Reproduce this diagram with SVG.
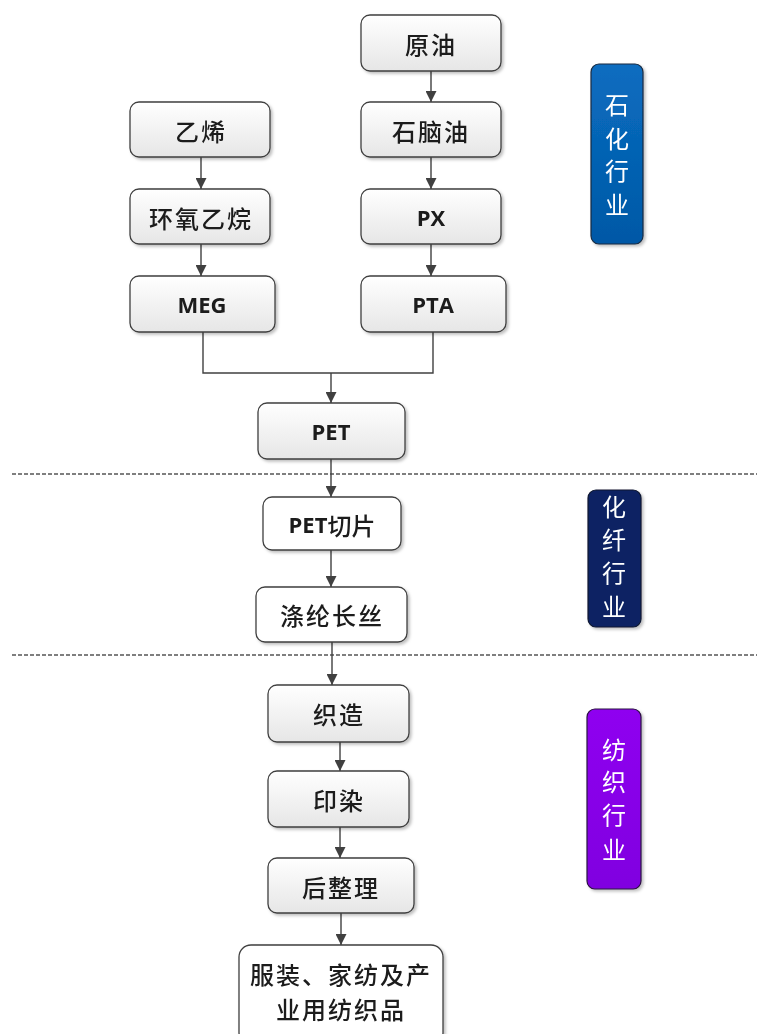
<svg xmlns="http://www.w3.org/2000/svg" width="763" height="1034" viewBox="0 0 763 1034">
<style>
.box{stroke:#3f3f3f;stroke-width:1.3;fill:url(#g)}
.wbox{stroke:#3f3f3f;stroke-width:1.3;fill:#ffffff}
.cn{font-family:"Noto Sans CJK SC",sans-serif;font-size:24px;font-weight:500;fill:#1a1a1a;text-anchor:middle;dominant-baseline:central;letter-spacing:2px}
.en{font-family:"Open Sans","Liberation Sans",sans-serif;font-weight:bold;font-size:22px;fill:#1a1a1a;text-anchor:middle;dominant-baseline:central}
.side{font-family:"Noto Sans CJK SC",sans-serif;font-size:24px;fill:#ffffff;text-anchor:middle;dominant-baseline:central}
.ln{stroke:#404040;stroke-width:1.4;fill:none}
.ar{stroke:#404040;stroke-width:1.4;fill:none;marker-end:url(#ah)}
.dash{stroke:#555;stroke-width:1.3;stroke-dasharray:4 2;fill:none}
</style>
<defs>
<linearGradient id="g" x1="0" y1="0" x2="0" y2="1">
<stop offset="0" stop-color="#ffffff"/>
<stop offset="1" stop-color="#e6e6e6"/>
</linearGradient>
<linearGradient id="gb" x1="0" y1="0" x2="0" y2="1">
<stop offset="0" stop-color="#0a6dc0"/>
<stop offset="1" stop-color="#0058a6"/>
</linearGradient>
<linearGradient id="gp" x1="0" y1="0" x2="0" y2="1">
<stop offset="0" stop-color="#8f00f0"/>
<stop offset="1" stop-color="#8000e0"/>
</linearGradient>
<filter id="sh" x="-20%" y="-20%" width="140%" height="140%">
<feDropShadow dx="2" dy="2" stdDeviation="1.5" flood-color="#000" flood-opacity="0.25"/>
</filter>
<marker id="ah" viewBox="0 0 10 10" refX="10" refY="5" markerWidth="11" markerHeight="11" markerUnits="userSpaceOnUse" orient="auto">
<path d="M0,0 L10,5 L0,10 z" fill="#404040"/>
</marker>
</defs>
<rect width="763" height="1034" fill="#ffffff"/>

<g id="separators">
<line class="dash" x1="12" y1="474" x2="757" y2="474"/>
<line class="dash" x1="12" y1="655" x2="757" y2="655"/>
</g>

<g id="connectors">
<line class="ar" x1="431" y1="71" x2="431" y2="102"/>
<line class="ar" x1="431" y1="157" x2="431" y2="189"/>
<line class="ar" x1="431" y1="244" x2="431" y2="276"/>
<line class="ar" x1="201" y1="157" x2="201" y2="189"/>
<line class="ar" x1="201" y1="244" x2="201" y2="276"/>
<polyline class="ln" points="203,332 203,373 433,373 433,332"/>
<line class="ar" x1="331" y1="373" x2="331" y2="403"/>
<line class="ar" x1="331" y1="459" x2="331" y2="497"/>
<line class="ar" x1="331" y1="550" x2="331" y2="587"/>
<line class="ar" x1="332" y1="642" x2="332" y2="685"/>
<line class="ar" x1="340" y1="742" x2="340" y2="771"/>
<line class="ar" x1="340" y1="827" x2="340" y2="858"/>
<line class="ar" x1="341" y1="913" x2="341" y2="945"/>
</g>

<g id="n-yuanyou" filter="url(#sh)"><rect class="box" x="361" y="15" width="140" height="56" rx="9"/><text class="cn" x="431" y="43">原油</text></g>
<g id="n-shinaoyou" filter="url(#sh)"><rect class="box" x="361" y="102" width="140" height="55" rx="9"/><text class="cn" x="431" y="130">石脑油</text></g>
<g id="n-px" filter="url(#sh)"><rect class="box" x="361" y="189" width="140" height="55" rx="9"/><text class="en" x="431" y="217">PX</text></g>
<g id="n-pta" filter="url(#sh)"><rect class="box" x="361" y="276" width="145" height="56" rx="9"/><text class="en" x="433" y="304">PTA</text></g>
<g id="n-yixi" filter="url(#sh)"><rect class="box" x="130" y="102" width="140" height="55" rx="9"/><text class="cn" x="201" y="130">乙烯</text></g>
<g id="n-huanyang" filter="url(#sh)"><rect class="box" x="130" y="189" width="140" height="55" rx="9"/><text class="cn" x="201" y="217">环氧乙烷</text></g>
<g id="n-meg" filter="url(#sh)"><rect class="box" x="130" y="276" width="145" height="56" rx="9"/><text class="en" x="202" y="304">MEG</text></g>
<g id="n-pet" filter="url(#sh)"><rect class="box" x="258" y="403" width="147" height="56" rx="9"/><text class="en" x="331" y="431">PET</text></g>
<g id="n-petchip" filter="url(#sh)"><rect class="wbox" x="263" y="497" width="138" height="53" rx="9"/><text x="332" y="524" style="font-family:'Open Sans','Noto Sans CJK SC',sans-serif;font-size:22px;fill:#1a1a1a;text-anchor:middle;dominant-baseline:central"><tspan font-weight="bold">PET</tspan><tspan font-family="Noto Sans CJK SC" font-size="24px" font-weight="500">切片</tspan></text></g>
<g id="n-dilun" filter="url(#sh)"><rect class="wbox" x="256" y="587" width="151" height="55" rx="9"/><text class="cn" x="332" y="614">涤纶长丝</text></g>
<g id="n-zhizao" filter="url(#sh)"><rect class="box" x="268" y="685" width="141" height="57" rx="9"/><text class="cn" x="339" y="713">织造</text></g>
<g id="n-yinran" filter="url(#sh)"><rect class="box" x="268" y="771" width="141" height="56" rx="9"/><text class="cn" x="339" y="799">印染</text></g>
<g id="n-houzhengli" filter="url(#sh)"><rect class="box" x="268" y="858" width="146" height="55" rx="9"/><text class="cn" x="341" y="886">后整理</text></g>
<g id="n-fuzhuang" filter="url(#sh)"><rect class="wbox" x="239" y="945" width="204" height="100" rx="12"/><text class="cn" x="341" y="973">服装、家纺及产</text><text class="cn" x="341" y="1008">业用纺织品</text></g>

<g id="s-shihua" filter="url(#sh)"><rect x="591" y="64" width="52" height="180" rx="8" fill="url(#gb)" stroke="#1a2a40" stroke-width="1.2"/>
<text class="side" x="617" y="103">石</text><text class="side" x="617" y="137">化</text><text class="side" x="617" y="169">行</text><text class="side" x="617" y="203">业</text></g>
<g id="s-huaxian" filter="url(#sh)"><rect x="588" y="490" width="53" height="137" rx="8" fill="#0b2463" stroke="#101830" stroke-width="1.2"/>
<text class="side" x="614" y="505">化</text><text class="side" x="614" y="538">纤</text><text class="side" x="614" y="571">行</text><text class="side" x="614" y="605">业</text></g>
<g id="s-fangzhi" filter="url(#sh)"><rect x="587" y="709" width="54" height="180" rx="8" fill="url(#gp)" stroke="#2a1040" stroke-width="1.2"/>
<text class="side" x="614" y="748">纺</text><text class="side" x="614" y="780">织</text><text class="side" x="614" y="813">行</text><text class="side" x="614" y="848">业</text></g>
</svg>
